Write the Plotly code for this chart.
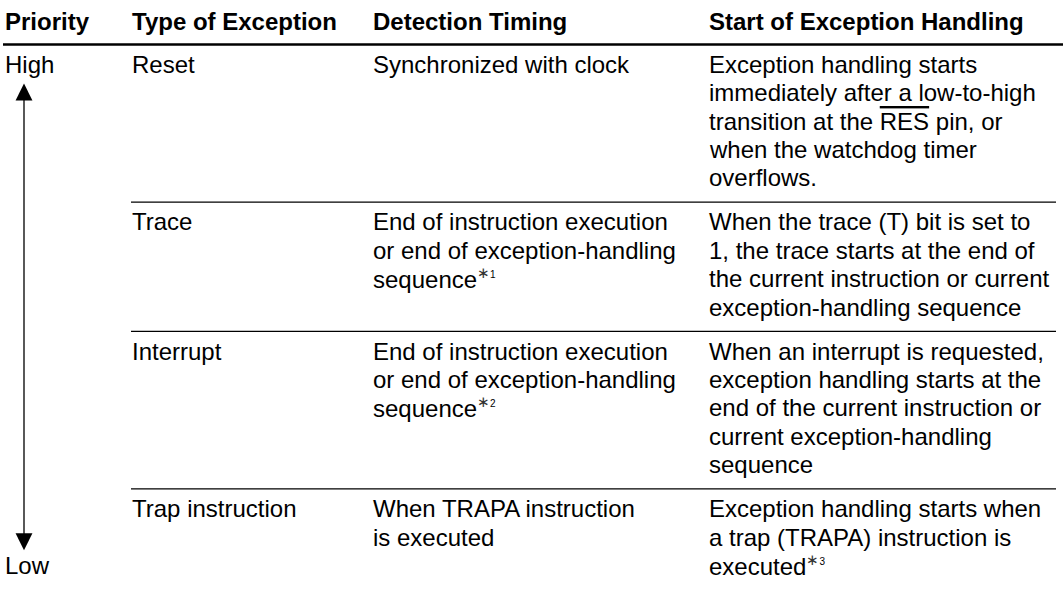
import plotly.graph_objects as go

# ---------------- data ----------------
headers = ["Priority", "Type of Exception", "Detection Timing", "Start of Exception Handling"]
priority_levels = ["High", "Low"]
exception_types = ["Reset", "Trace", "Interrupt", "Trap instruction"]
NOTE = ("<sup><span style='font-size:15px;color:#333'>∗</span>"
        "<span style='font-size:10px'>{}</span></sup>")
detection_timing = [
    ["Synchronized with clock"],
    ["End of instruction execution", "or end of exception-handling", "sequence" + NOTE.format(1)],
    ["End of instruction execution", "or end of exception-handling", "sequence" + NOTE.format(2)],
    ["When TRAPA instruction", "is executed"],
]
start_of_handling = [
    ["Exception handling starts",
     "immediately after a low-to-high",
     "transition at the <span style='text-decoration:overline'>RES</span> pin, or",
     "when the watchdog timer",
     "overflows."],
    ["When the trace (T) bit is set to",
     "1, the trace starts at the end of",
     "the current instruction or current",
     "exception-handling sequence"],
    ["When an interrupt is requested,",
     "exception handling starts at the",
     "end of the current instruction or",
     "current exception-handling",
     "sequence"],
    ["Exception handling starts when",
     "a trap (TRAPA) instruction is",
     "executed" + NOTE.format(3)],
]

# ---------------- layout constants ----------------
W, H = 1063, 590
FONT = "Liberation Sans, Arial, Helvetica, sans-serif"
FS = 24
COL_X = [4.5, 131.5, 372.5, 708.5]
HEADER_BASELINE = 30
HEADER_RULE_Y = 44.5
FIRST_OFFSET = 28      # rule -> first baseline
LINE_GAP = 28.4        # baseline to baseline
ROW_PAD = 16           # last baseline -> next rule
CENTER_SHIFT = 8.3     # baseline -> middle of text box
RULE_X0, RULE_X1 = 131, 1056

fig = go.Figure()
fig.add_trace(go.Scatter(x=[0, W], y=[0, H], mode="markers",
                         marker=dict(opacity=0), hoverinfo="skip"))

annotations = []


def add_text(x, baseline, text, bold=False):
    annotations.append(dict(
        x=x, y=baseline - CENTER_SHIFT, xref="x", yref="y",
        xanchor="left", yanchor="middle", showarrow=False,
        text=("<b>%s</b>" % text) if bold else text,
        font=dict(family=FONT, size=FS, color="#000"),
        borderpad=0, borderwidth=0, align="left"))


# header
for cx, h in zip(COL_X, headers):
    add_text(cx, HEADER_BASELINE, h, bold=True)

shapes = [dict(type="line", xref="x", yref="y", x0=3, x1=W,
               y0=HEADER_RULE_Y, y1=HEADER_RULE_Y,
               line=dict(color="#000", width=2.6))]

row_top = HEADER_RULE_Y
baselines_first = []
last_baseline = None
for i, etype in enumerate(exception_types):
    cells = [[etype], detection_timing[i], start_of_handling[i]]
    first = row_top + FIRST_OFFSET
    baselines_first.append(first)
    n = max(len(c) for c in cells)
    for cx, cell in zip(COL_X[1:], cells):
        for k, line in enumerate(cell):
            add_text(cx, first + k * LINE_GAP, line)
    last_baseline = first + (n - 1) * LINE_GAP
    row_top = last_baseline + ROW_PAD
    if i < len(exception_types) - 1:
        shapes.append(dict(type="line", xref="x", yref="y", x0=RULE_X0, x1=RULE_X1,
                           y0=row_top, y1=row_top, line=dict(color="#000", width=1.3)))

high_baseline = baselines_first[0]
low_baseline = last_baseline
add_text(COL_X[0], high_baseline, priority_levels[0])
add_text(COL_X[0], low_baseline, priority_levels[1])

# priority arrow
annotations.append(dict(
    x=24, y=high_baseline + 11, xref="x", yref="y",
    ax=24, ay=low_baseline - 22, axref="x", ayref="y",
    text="", showarrow=True, arrowside="end+start",
    arrowhead=2, startarrowhead=2, arrowsize=2.6, startarrowsize=2.6,
    arrowwidth=1.3, arrowcolor="#000", standoff=0, startstandoff=0))

fig.update_layout(
    width=W, height=H, margin=dict(l=0, r=0, t=0, b=0),
    paper_bgcolor="white", plot_bgcolor="white", showlegend=False,
    xaxis=dict(range=[0, W], visible=False, fixedrange=True),
    yaxis=dict(range=[H, 0], visible=False, fixedrange=True),
    annotations=annotations, shapes=shapes)

fig.write_html("out.html", config={"displayModeBar": False},
               post_script="document.body.style.margin='0';")
